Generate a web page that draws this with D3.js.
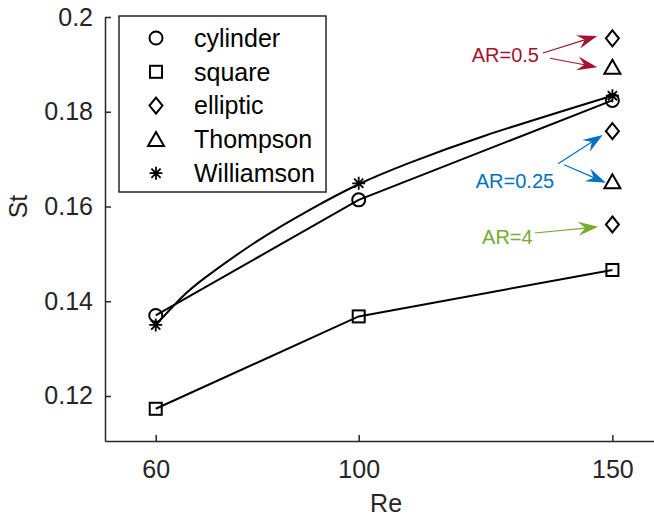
<!DOCTYPE html>
<html>
<head>
<meta charset="utf-8">
<script src="https://cdn.jsdelivr.net/npm/d3@7"></script>
<style>
  body { margin: 0; background: #fff; }
  svg text { font-family: "Liberation Sans", Arial, sans-serif; }
</style>
</head>
<body>
<svg id="canvas"></svg>
<script>
var w = 654;
var h = 521;

// Reynolds numbers on the x axis
var reValues = [60, 100, 150];
// Strouhal numbers per series
var cylinderSt = [0.1370, 0.1614, 0.1824];
var squareSt = [0.1173, 0.1368, 0.1466];
var williamsonSt = [0.1350, 0.1649, 0.1834];
// Williamson curve
var williamsonCurveRe = [60, 65, 70, 80, 90, 100, 110, 125, 150];
var williamsonCurveSt = [0.1350, 0.1407, 0.1452, 0.1527, 0.1591, 0.1647, 0.1692, 0.1750, 0.1834];
// single points at Re = 150
var ellipticSt = [0.1955, 0.1759, 0.1562];
var thompsonSt = [0.1894, 0.1652];

var xTicks = [60, 100, 150];
var yTicks = [0.12, 0.14, 0.16, 0.18, 0.2];

var legendNames = ["cylinder", "square", "elliptic", "Thompson", "Williamson"];
var legendSymbols = ["circle", "square", "diamond", "triangle", "star"];

// annotations: label, colour, label position, arrows [from, to] (Re, St)
var notes = [
  {label: "AR=0.5", color: "#A2142F", at: [128.9, 0.1920],
   arrows: [[[136.3, 0.1924], [147.0, 0.1960]], [[137.7, 0.1913], [147.0, 0.1894]]]},
  {label: "AR=0.25", color: "#0072BD", at: [130.8, 0.1654],
   arrows: [[[139.3, 0.1690], [148.1, 0.1751]], [[140.5, 0.1688], [148.7, 0.1650]]]},
  {label: "AR=4", color: "#77AC30", at: [129.3, 0.1536],
   arrows: [[[134.7, 0.1544], [147.2, 0.1557]]]}
];

var axisColor = "#262626";

var svg = d3.select("#canvas")
  .attr("width", w)
  .attr("height", h)
  .attr("viewBox", [0, 0, w, h]);

var x = d3.scaleLinear().domain([50, 158.2]).range([105, 654]);
var y = d3.scaleLinear().domain([0.1105, 0.2]).range([441, 17]);

// axes (MATLAB style, ticks pointing inward)
var xAxis = svg.append("g")
  .attr("transform", "translate(0," + y.range()[0] + ")")
  .call(d3.axisBottom(x).tickValues(xTicks).tickSizeInner(-6).tickSizeOuter(0).tickPadding(14));
var yAxis = svg.append("g")
  .attr("transform", "translate(" + x.range()[0] + ",0)")
  .call(d3.axisLeft(y).tickValues(yTicks).tickSizeInner(-6).tickSizeOuter(0).tickPadding(12)
    .tickFormat(function (d) { return d3.format("")(+d.toFixed(2)); }));

[xAxis, yAxis].forEach(function (g) {
  g.select(".domain").attr("stroke", axisColor).attr("stroke-width", 1.5);
  g.selectAll(".tick line").attr("stroke", axisColor).attr("stroke-width", 1.5);
  g.selectAll(".tick text").attr("fill", axisColor).style("font-size", "25px");
});
xAxis.selectAll(".tick text").attr("dy", "0.92em");

svg.append("text")
  .attr("x", (x(60) + x(150)) / 2 + 2)
  .attr("y", 512)
  .attr("text-anchor", "middle")
  .attr("fill", axisColor)
  .style("font-size", "25px")
  .text("Re");
svg.append("text")
  .attr("transform", "translate(27," + y(0.16) + ") rotate(-90)")
  .attr("text-anchor", "middle")
  .attr("fill", axisColor)
  .style("font-size", "25px")
  .text("St");

// marker drawing
function drawMarker(g, type, cx, cy, color) {
  var m = g.append("g").attr("transform", "translate(" + cx + "," + cy + ")")
    .attr("fill", "none").attr("stroke", color || "#000").attr("stroke-width", 2);
  if (type == "circle") {
    m.append("circle").attr("r", 6.5);
  } else if (type == "square") {
    m.append("rect").attr("x", -6).attr("y", -6).attr("width", 12).attr("height", 12);
  } else if (type == "diamond") {
    m.append("path").attr("d", "M0,-8L6.5,0L0,8L-6.5,0Z");
  } else if (type == "triangle") {
    m.append("path").attr("d", "M0,-7.5L8,6.5L-8,6.5Z");
  } else if (type == "star") {
    m.append("path").attr("stroke-width", 1.8)
      .attr("d", "M0,-6.5V6.5M-6.5,0H6.5M-4.6,-4.6L4.6,4.6M-4.6,4.6L4.6,-4.6");
  }
}

function lineWith(curve) {
  return d3.line()
    .x(function (d) { return x(d[0]); })
    .y(function (d) { return y(d[1]); })
    .curve(curve);
}
function zipPts(xs, ys) {
  return xs.map(function (r, i) { return [r, ys[i]]; });
}

var plot = svg.append("g");
var series = [
  {vals: cylinderSt, sym: "circle", line: lineWith(d3.curveLinear), path: zipPts(reValues, cylinderSt)},
  {vals: squareSt, sym: "square", line: lineWith(d3.curveLinear), path: zipPts(reValues, squareSt)},
  {vals: williamsonSt, sym: "star", line: lineWith(d3.curveNatural),
   path: zipPts(williamsonCurveRe, williamsonCurveSt)}
];
series.forEach(function (s) {
  plot.append("path")
    .datum(s.path)
    .attr("d", s.line)
    .attr("fill", "none")
    .attr("stroke", "#000")
    .attr("stroke-width", 2);
  zipPts(reValues, s.vals).forEach(function (p) { drawMarker(plot, s.sym, x(p[0]), y(p[1])); });
});
ellipticSt.forEach(function (v) { drawMarker(plot, "diamond", x(150), y(v)); });
thompsonSt.forEach(function (v) { drawMarker(plot, "triangle", x(150), y(v)); });

// annotations with MATLAB-like arrow heads
function arrowHead(g, x0, y0, x1, y1, color) {
  var a = Math.atan2(y1 - y0, x1 - x0);
  var len = 20, half = 7, back = 13;
  g.append("path")
    .attr("transform", "translate(" + x1 + "," + y1 + ") rotate(" + (a * 180 / Math.PI) + ")")
    .attr("d", "M0,0L" + (-len) + "," + (-half) + "L" + (-back) + ",0L" + (-len) + "," + half + "Z")
    .attr("fill", color);
}
notes.forEach(function (n) {
  var g = svg.append("g");
  n.arrows.forEach(function (ar) {
    var x0 = x(ar[0][0]), y0 = y(ar[0][1]), x1 = x(ar[1][0]), y1 = y(ar[1][1]);
    var a = Math.atan2(y1 - y0, x1 - x0);
    g.append("line")
      .attr("x1", x0).attr("y1", y0)
      .attr("x2", x1 - 13 * Math.cos(a)).attr("y2", y1 - 13 * Math.sin(a))
      .attr("stroke", n.color).attr("stroke-width", 1.2);
    arrowHead(g, x0, y0, x1, y1, n.color);
  });
  g.append("text")
    .attr("x", x(n.at[0]))
    .attr("y", y(n.at[1]))
    .attr("dy", "0.35em")
    .attr("text-anchor", "middle")
    .attr("fill", n.color)
    .style("font-size", "20px")
    .text(n.label);
});

// legend
var leg = svg.append("g");
leg.append("rect")
  .attr("x", 119).attr("y", 16).attr("width", 207).attr("height", 176)
  .attr("fill", "#fff").attr("stroke", axisColor).attr("stroke-width", 1.5);
legendNames.forEach(function (name, i) {
  var ly = 38 + i * 33.8;
  drawMarker(leg, legendSymbols[i], 156, ly);
  leg.append("text")
    .attr("x", 194).attr("y", ly)
    .attr("dy", "0.35em")
    .attr("fill", "#000")
    .style("font-size", "25px")
    .text(name);
});
</script>
</body>
</html>
